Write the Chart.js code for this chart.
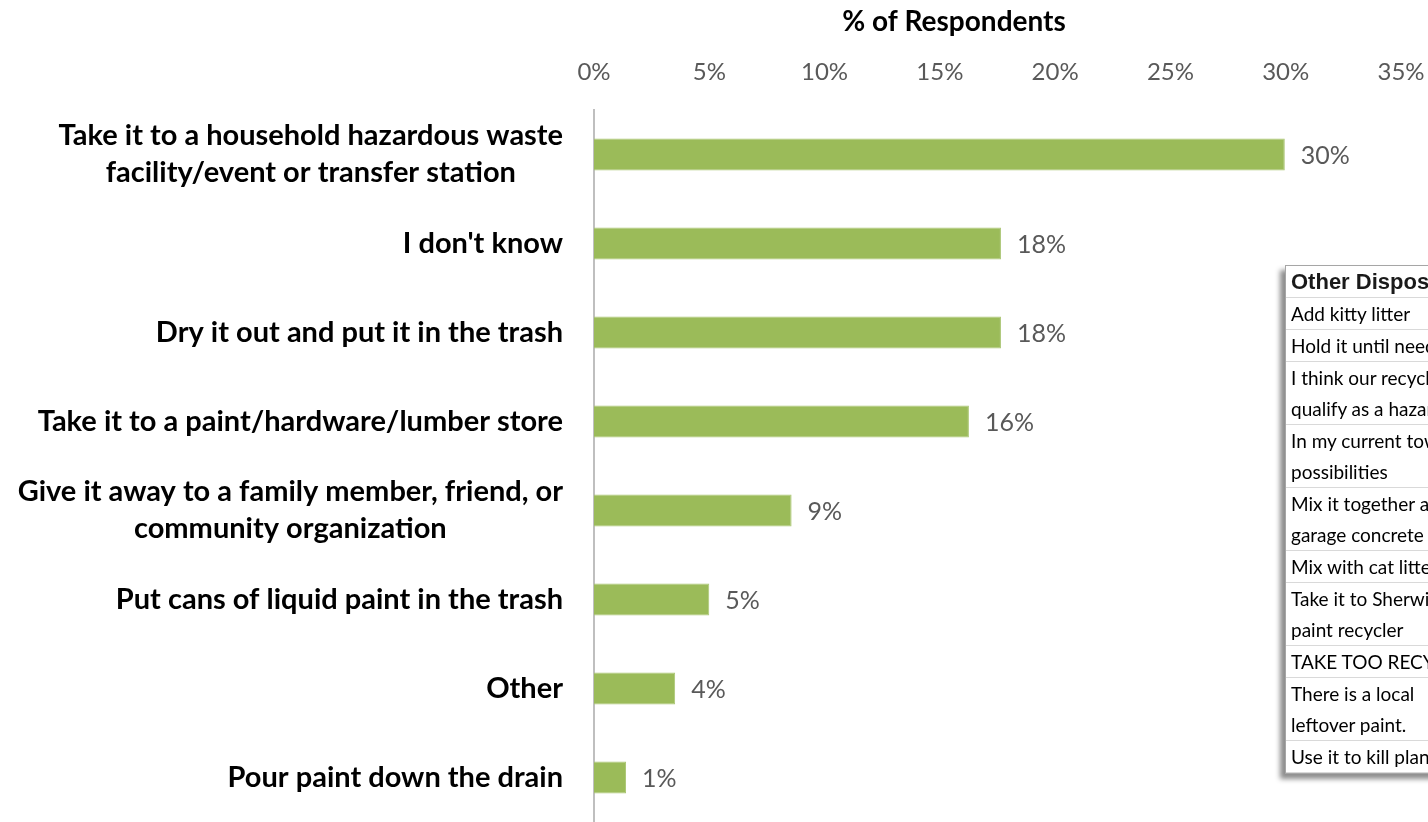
<!DOCTYPE html>
<html>
<head>
<meta charset="utf-8">
<script src="https://cdn.jsdelivr.net/npm/chart.js@4.4.1/dist/chart.umd.min.js"></script>
<style>
  html, body { margin: 0; padding: 0; overflow: hidden; background: #fff; }
  #wrap { position: relative; width: 1428px; height: 822px; }
  #otherBox {
    position: absolute; left: 1285px; top: 265px; width: 330px;
    background: #fff; border: 1px solid #a6a6a6;
    box-shadow: -5px 5px 5px rgba(0,0,0,0.45);
  }
  #otherBox table { border-collapse: collapse; width: 100%; }
  #otherBox td {
    font-family: Lato, "Open Sans", sans-serif; font-size: 19px; color: #000;
    line-height: 31px; padding: 0 0 0 5px; white-space: nowrap;
    border-bottom: 1px solid #d9d9d9;
  }
  #otherBox th {
    font-family: "Liberation Sans", Arial, sans-serif; font-size: 22px; font-weight: bold;
    color: #1a1a1a; text-align: left; line-height: 31px; padding: 0 0 0 5px;
    white-space: nowrap; border-bottom: 1px solid #d9d9d9;
  }
</style>
</head>
<body>
<div id="wrap">
  <canvas id="chartDisposal" width="1428" height="822"></canvas>
  <div id="otherBox">
    <table>
      <thead><tr><th>Other Disposal</th></tr></thead>
      <tbody id="otherRows"></tbody>
    </table>
  </div>
</div>
<script>
// Survey answers, top to bottom
const categories = [
  ['Take it to a household hazardous waste', 'facility/event or transfer station'],
  ["I don't know"],
  ['Dry it out and put it in the trash'],
  ['Take it to a paint/hardware/lumber store'],
  ['Give it away to a family member, friend, or', 'community organization'],
  ['Put cans of liquid paint in the trash'],
  ['Other'],
  ['Pour paint down the drain']
];
const pctRespondents = [29.96, 17.65, 17.65, 16.26, 8.57, 5.0, 3.52, 1.39];
const xTicks = [0, 5, 10, 15, 20, 25, 30, 35];

// write-in answers listed under "Other"
const otherAnswers = [
  ['Add kitty litter'],
  ['Hold it until needed'],
  ['I think our recycling', 'qualify as a hazardous'],
  ['In my current town', 'possibilities'],
  ['Mix it together and', 'garage concrete'],
  ['Mix with cat litter'],
  ['Take it to Sherwin', 'paint recycler'],
  ['TAKE TOO RECYCLE'],
  ['There is a local', 'leftover paint.'],
  ['Use it to kill plants']
];

document.getElementById('otherRows').innerHTML = otherAnswers.map(a =>
  `<tr><td>${a.join('<br>')}</td></tr>`
).join('');

const GREEN = '#9bbb59';
const GREY_TEXT = '#595959';
const FONT = 'Lato, "Open Sans", sans-serif';

// category labels: block right-aligned to the axis, lines centred inside the block
const catLabels = {
  id: 'catLabels',
  afterDraw(chart) {
    const { ctx, scales: { y }, chartArea } = chart;
    ctx.save();
    ctx.font = 'bold 29px ' + FONT;
    ctx.fillStyle = '#000';
    ctx.textAlign = 'center';
    ctx.textBaseline = 'middle';
    const right = chartArea.left - 31;
    const lh = 37;
    categories.forEach((lines, i) => {
      const cy = y.getPixelForValue(i);
      const w = Math.max(...lines.map(l => ctx.measureText(l).width));
      const cx = right - w / 2;
      lines.forEach((l, j) => {
        ctx.fillText(l, cx, cy + (j - (lines.length - 1) / 2) * lh);
      });
    });
    ctx.restore();
  }
};

// value labels at the end of each bar
const barValues = {
  id: 'barValues',
  afterDatasetsDraw(chart) {
    const { ctx } = chart;
    const meta = chart.getDatasetMeta(0);
    ctx.save();
    ctx.font = '25px ' + FONT;
    ctx.fillStyle = GREY_TEXT;
    ctx.textAlign = 'left';
    ctx.textBaseline = 'middle';
    meta.data.forEach((bar, i) => {
      ctx.fillText(Math.round(pctRespondents[i]) + '%', bar.x + 16, bar.y + 1);
    });
    ctx.restore();
  }
};

// axis title above the tick labels
const axisTitle = {
  id: 'axisTitle',
  afterDraw(chart) {
    const { ctx } = chart;
    ctx.save();
    ctx.font = 'bold 28px ' + FONT;
    ctx.fillStyle = '#000';
    ctx.textAlign = 'center';
    ctx.textBaseline = 'middle';
    ctx.fillText('% of Respondents', 954, 22);
    ctx.restore();
  }
};

new Chart(document.getElementById('chartDisposal'), {
  type: 'bar',
  data: {
    labels: categories.map(c => c.join(' ')),
    datasets: [{
      data: pctRespondents,
      backgroundColor: GREEN,
      borderColor: '#aac673',
      borderWidth: 1,
      categoryPercentage: 0.8,
      barPercentage: 0.45
    }]
  },
  options: {
    indexAxis: 'y',
    responsive: false,
    animation: false,
    layout: { padding: { left: 0, right: 27, top: 0, bottom: 0 } },
    plugins: { legend: { display: false }, tooltip: { enabled: false } },
    scales: {
      x: {
        position: 'top',
        min: 0,
        max: 35,
        afterBuildTicks: s => { s.ticks = xTicks.map(v => ({ value: v })); },
        afterFit: s => {
          s.height = 110;
          // let the last tick label hang into the right padding
          s.paddingLeft = 0;
          s.paddingRight = 0;
        },
        grid: { display: false },
        border: { display: false },
        ticks: {
          padding: 15,
          color: GREY_TEXT,
          font: { family: FONT, size: 24 },
          callback: v => v + '%'
        }
      },
      y: {
        afterFit: s => { s.width = 594; },
        grid: { display: false },
        border: { display: true, color: '#bfbfbf', width: 2 },
        ticks: { display: false }
      }
    }
  },
  plugins: [catLabels, barValues, axisTitle]
});
</script>
</body>
</html>
